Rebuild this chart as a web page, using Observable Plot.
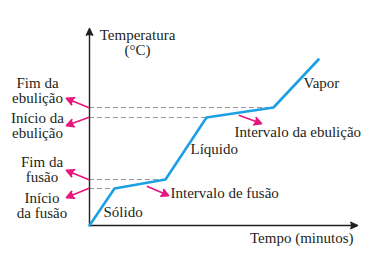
<!DOCTYPE html>
<html>
<head>
<meta charset="utf-8">
<script src="https://cdn.jsdelivr.net/npm/d3@7"></script>
<script src="https://cdn.jsdelivr.net/npm/@observablehq/plot@0.6"></script>
<style>
  html, body { margin: 0; padding: 0; background: #fff; }
</style>
</head>
<body>
<div id="chart"></div>
<script>
// Heating curve (arbitrary units): time vs temperature
const time = [0, 2.5, 7.6, 11.7, 18.4, 22.9];
const temperature = [0, 3.7, 4.6, 10.8, 11.8, 16.6];

// Plateau reference levels (indices into the curve)
const plateauIdx = [1, 2, 3, 4];

// Side labels for the levels
const levelLabels = ["Início\nda fusão", "Fim da\nfusão", "Início da\nebulição", "Fim da\nebulição"];
const levelLabelX = [-4.75, -4.75, -5.2, -5.2];
const levelLabelY = [1.95, 5.55, 9.95, 13.5];

// Phase / interval labels
const phaseLabels = ["Sólido", "Líquido", "Vapor", "Intervalo de fusão", "Intervalo da ebulição"];
const phaseLabelX = [1.4, 10.1, 21.4, 8.1, 14.5];
const phaseLabelY = [1.3, 7.6, 14.2, 3.2, 9.3];

// Annotation arrows (start -> end)
const arrowX1 = [-0.1, -0.1, -0.1, -0.1, 5.8, 15.0];
const arrowY1 = [11.8, 10.8, 4.6, 3.7, 3.9, 11.0];
const arrowX2 = [-2.3, -2.3, -2.3, -2.3, 7.9, 17.2];
const arrowY2 = [12.7, 10.0, 5.5, 2.8, 3.0, 10.2];

// Axis titles
const yTitle = "Temperatura\n(°C)";
const xTitle = "Tempo (minutos)";
const xMax = 26.8, yMax = 19.7;

const curve = time.map((t, i) => ({t, T: temperature[i]}));
const levels = plateauIdx.map(i => ({x: time[i], y: temperature[i]}));
const leftLabels = levelLabels.map((s, i) => ({s, x: levelLabelX[i], y: levelLabelY[i]}));
const phases = phaseLabels.map((s, i) => ({s, x: phaseLabelX[i], y: phaseLabelY[i]}));
const arrows = arrowX1.map((x1, i) => ({x1, y1: arrowY1[i], x2: arrowX2[i], y2: arrowY2[i]}));

const ink = "#231f20";
const magenta = "#e6177f";
const blue = "#1ba1e2";
const font = "Liberation Serif, Times New Roman, serif";

const chart = Plot.plot({
  width: 390,
  height: 259,
  marginLeft: 89,
  marginRight: 33,
  marginTop: 28,
  marginBottom: 34,
  x: {domain: [0, xMax], axis: null},
  y: {domain: [0, yMax], axis: null},
  style: {fontFamily: font, background: "#fff", overflow: "visible"},
  marks: [
    // dashed reference lines
    Plot.ruleY(levels, {x1: 0, x2: "x", y: "y", stroke: "#9a9a9a", strokeWidth: 1, strokeDasharray: "5,3"}),
    // axes with arrowheads
    Plot.arrow([{x1: 0, y1: 0, x2: 0, y2: yMax}, {x1: 0, y1: 0, x2: xMax, y2: 0}], {
      x1: "x1", y1: "y1", x2: "x2", y2: "y2",
      stroke: ink, fill: ink, strokeWidth: 1.4, headLength: 8, headAngle: 50
    }),
    // curve
    Plot.line(curve, {x: "t", y: "T", stroke: blue, strokeWidth: 2.6, strokeLinejoin: "miter"}),
    // annotation arrows
    Plot.arrow(arrows, {
      x1: "x1", y1: "y1", x2: "x2", y2: "y2",
      stroke: magenta, fill: magenta, strokeWidth: 1.8, headLength: 8, headAngle: 55
    }),
    // left labels
    Plot.text(leftLabels, {x: "x", y: "y", text: "s", fontSize: 15, fill: ink, textAnchor: "middle", lineAnchor: "middle", lineHeight: 1.0}),
    // phase labels
    Plot.text(phases, {x: "x", y: "y", text: "s", fontSize: 15, fill: ink, textAnchor: "start", lineAnchor: "middle"}),
    // axis titles
    Plot.text([yTitle], {x: 4.8, y: 18.25, text: d => d, fontSize: 15, fill: ink, textAnchor: "middle", lineAnchor: "middle", lineHeight: 1.0}),
    Plot.text([xTitle], {x: 26.4, y: -1.3, text: d => d, fontSize: 15, fill: ink, textAnchor: "end", lineAnchor: "middle"})
  ]
});
document.getElementById("chart").appendChild(chart);
</script>
</body>
</html>
